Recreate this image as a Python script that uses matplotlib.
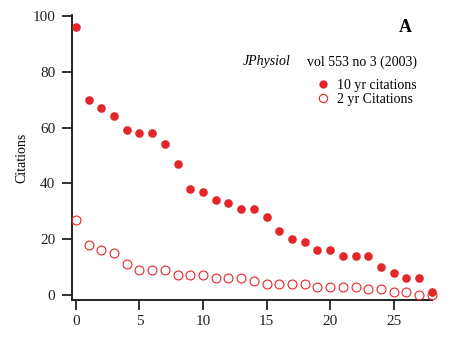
import matplotlib.pyplot as plt
from matplotlib.lines import Line2D

plt.rcParams['font.family'] = ['Liberation Serif', 'DejaVu Serif']

# rank of paper (0 = most cited) and citation counts
rank = list(range(29))
cites_10yr = [96, 70, 67, 64, 59, 58, 58, 54, 47, 38, 37, 34, 33, 31, 31,
              28, 23, 20, 19, 16, 16, 14, 14, 14, 10, 8, 6, 6, 1]
cites_2yr = [27, 18, 16, 15, 11, 9, 9, 9, 7, 7, 7, 6, 6, 6, 5,
             4, 4, 4, 4, 3, 3, 3, 3, 2, 2, 1, 1, 0, 0]
x_ticks = [0, 5, 10, 15, 20, 25]
y_ticks = [0, 20, 40, 60, 80, 100]

red = '#e3262a'

fig = plt.figure(figsize=(4.72, 3.6), dpi=100)
ax = fig.add_axes([0.1525, 0.1667, 0.7625, 0.7917])

ax.plot(rank, cites_10yr, 'o', color=red, markersize=6.2, markeredgewidth=0,
        clip_on=False, zorder=3)
ax.plot(rank, cites_2yr, 'o', markerfacecolor='none', markeredgecolor=red,
        markersize=6.4, markeredgewidth=0.8, clip_on=False, zorder=3)

ax.set_xlim(-0.31, 28.0)
ax.set_ylim(-1.8, 100.4)
ax.set_xticks(x_ticks)
ax.set_yticks(y_ticks)
ax.set_ylabel('Citations', fontsize=10, labelpad=3)

for s in ['top', 'right']:
    ax.spines[s].set_visible(False)
for s in ['left', 'bottom']:
    ax.spines[s].set_linewidth(1.4)
    ax.spines[s].set_color('#222222')
ax.tick_params(direction='out', length=7, width=1.3, labelsize=11,
               color='#222222', labelcolor='#222222')
ax.tick_params(axis='x', pad=4)
ax.tick_params(axis='y', pad=5)

# panel letter and title
fig.text(0.858, 0.925, 'A', fontsize=13, fontweight='bold', ha='center', va='center')
fig.text(0.515, 0.828, 'JPhysiol', fontsize=10, style='italic', ha='left', va='center')
fig.text(0.883, 0.828, 'vol 553 no 3 (2003)', fontsize=10, ha='right', va='center')

handles = [
    Line2D([], [], ls='none', marker='o', color=red, markersize=6, markeredgewidth=0),
    Line2D([], [], ls='none', marker='o', markerfacecolor='none', markeredgecolor=red,
           markersize=6, markeredgewidth=0.8),
]
fig.legend(handles, ['10 yr citations', '2 yr Citations'], loc='upper right',
           bbox_to_anchor=(0.903, 0.808), frameon=False, fontsize=10,
           handlelength=1.0, handletextpad=0.5, labelspacing=0.1,
           borderpad=0.2)

fig.savefig('out.png', dpi=100, facecolor='white')
